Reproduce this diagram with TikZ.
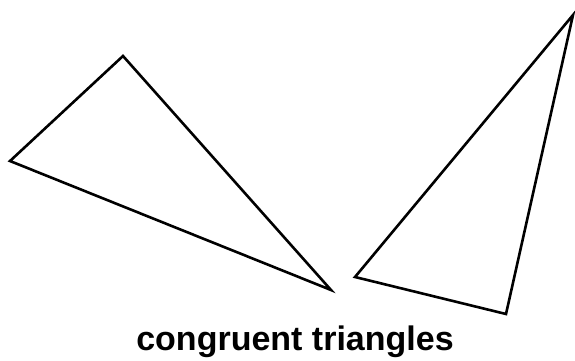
\documentclass[tikz,border=0pt]{standalone}
\usepackage{fontspec}
\setmainfont{Liberation Sans}
\usetikzlibrary{positioning}
\tikzset{
  tri/.style={draw=black, line width=2.6pt, line join=miter},
  caption/.style={font=\fontsize{34}{40}\selectfont\bfseries, text=black, inner sep=0pt, anchor=base}
}

\begin{document}
\begin{tikzpicture}[x=1pt, y=-1pt]
  \useasboundingbox (0,0) rectangle (575,360);
  % left triangle
  \coordinate (la) at (10,161);
  \coordinate (lb) at (123,56);
  \coordinate (lc) at (331,290);
  % right triangle
  \coordinate (ra) at (355,277);
  \coordinate (rb) at (573,15);
  \coordinate (rc) at (506,314);

  \draw[tri] (la) -- (lb) -- (lc) -- cycle;
  \draw[tri] (ra) -- (rb) -- (rc) -- cycle;
  \node[caption] (label) at (295,350) {congruent triangles};
\end{tikzpicture}
\end{document}
